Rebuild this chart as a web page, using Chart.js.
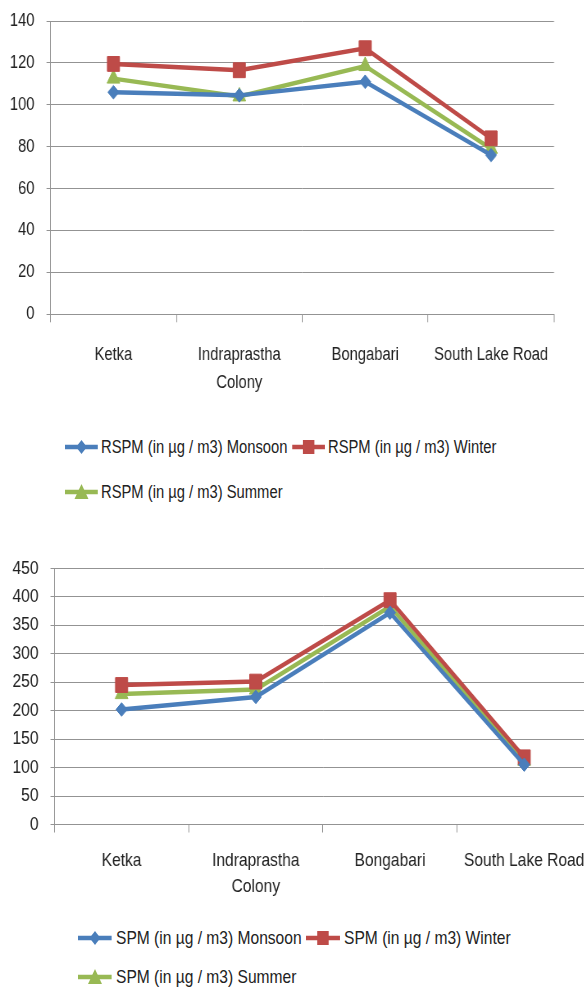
<!DOCTYPE html>
<html lang="en">
<head>
    <meta charset="UTF-8">
    <title>RSPM and SPM by location</title>
    <script src="https://cdn.jsdelivr.net/npm/chart.js@4.4.0/dist/chart.umd.min.js"></script>
    <style>
        body { margin: 0; width: 584px; height: 987px; overflow: hidden; background: #fff;
               font-family: 'Liberation Sans', Arial, sans-serif; color: #222; }
        /* the original uses a narrow face; Liberation Sans squeezed to 82% gives Arial Narrow widths */
        .box { position: absolute; left: 0; transform-origin: 0 0; }
        .legend-row { position: absolute; display: flex; align-items: center; white-space: nowrap; transform-origin: 0 50%; }
        .legend-row .item { display: flex; align-items: center; }
        .legend-row svg { display: block; }
    </style>
</head>
<body>
    <div class="box" id="rspm-box" style="top:0"><canvas id="rspm" height="400"></canvas></div>
    <div id="rspm-legend"></div>
    <div class="box" id="spm-box" style="top:540px"><canvas id="spm" height="370"></canvas></div>
    <div id="spm-legend"></div>

    <script>
        // locations (x axis)
        const locations = ['Ketka', ['Indraprastha', 'Colony'], 'Bongabari', 'South Lake Road'];

        // RSPM chart values (µg / m3)
        const rspmMonsoon = [106, 104.5, 111, 76];
        const rspmWinter = [119.5, 116.5, 127, 84];
        const rspmSummer = [112.5, 104, 118.5, 79];
        const rspmTicks = [0, 20, 40, 60, 80, 100, 120, 140];

        // SPM chart values (µg / m3)
        const spmMonsoon = [202, 224, 372, 105];
        const spmWinter = [245, 251, 394, 118];
        const spmSummer = [229, 237, 383, 112];
        const spmTicks = [0, 50, 100, 150, 200, 250, 300, 350, 400, 450];

        const seasons = ['Monsoon', 'Winter', 'Summer'];
        const colors = ['#4a7ebb', '#be4b48', '#98b954'];
        const markers = ['rectRot', 'rect', 'triangle'];
        const markerSize = [6.8, 10.5, 9];

        const SX = 0.82;              // horizontal squeeze
        const gridColor = '#939393';
        Chart.defaults.font.family = "'Liberation Sans', Arial, sans-serif";
        Chart.defaults.color = '#222';

        function makeDatasets(prefix, series) {
            return series.map((values, i) => ({
                label: prefix + ' (in µg / m3) ' + seasons[i],
                data: values,
                borderColor: colors[i],
                backgroundColor: colors[i],
                borderWidth: 4.5,
                pointStyle: markers[i],
                pointRadius: markerSize[i],
                pointBorderWidth: 1,
                tension: 0
            }));
        }

        // cfg sizes are given in screen px, converted to canvas px here
        function makeChart(id, prefix, series, ticks, cfg) {
            const canvas = document.getElementById(id);
            canvas.width = Math.round(cfg.width / SX);
            document.getElementById(id + '-box').style.transform = 'scaleX(' + (cfg.width / canvas.width) + ')';
            return new Chart(canvas, {
                type: 'line',
                data: { labels: locations, datasets: makeDatasets(prefix, series) },
                options: {
                    responsive: false,
                    animation: false,
                    layout: { autoPadding: false, padding: { top: cfg.top, right: (cfg.width - cfg.right) / SX, left: 0, bottom: 0 } },
                    plugins: { legend: { display: false }, tooltip: { enabled: false } },
                    scales: {
                        x: {
                            offset: true,
                            grid: { offset: true, drawOnChartArea: false, drawTicks: true, tickLength: 8, color: gridColor },
                            border: { color: gridColor },
                            ticks: { autoSkip: false, maxRotation: 0, padding: cfg.labelPad,
                                     font: { size: cfg.font, lineHeight: cfg.lineHeight } },
                            afterFit: s => { s.height = cfg.xHeight; }
                        },
                        y: {
                            min: ticks[0],
                            max: ticks[ticks.length - 1],
                            ticks: { stepSize: ticks[1] - ticks[0], padding: 12 / SX, font: { size: cfg.font } },
                            grid: { color: gridColor, tickLength: 4 / SX },
                            border: { color: gridColor },
                            // fixed width, and no extra room above/below for the tick labels
                            afterFit: s => { s.width = cfg.left / SX; s.paddingTop = 0; s.paddingBottom = 0; }
                        }
                    }
                }
            });
        }

        makeChart('rspm', 'RSPM', [rspmMonsoon, rspmWinter, rspmSummer], rspmTicks,
            { width: 584, top: 21, left: 50.5, right: 554, xHeight: 85.7, font: 18, lineHeight: 1.55, labelPad: 19 });
        makeChart('spm', 'SPM', [spmMonsoon, spmWinter, spmSummer], spmTicks,
            { width: 600, top: 28.3, left: 54.5, right: 591.3, xHeight: 85.5, font: 19, lineHeight: 1.39, labelPad: 15 });

        // html legend, Excel style: line with the marker on it (drawn unsqueezed, row squeezed by SX)
        function swatch(i, w) {
            const c = colors[i];
            const m = w / 2;
            let mark;
            if (i === 0) mark = `<polygon points="${m},4 ${m + 6.5},11 ${m},18 ${m - 6.5},11" fill="${c}"/>`;
            else if (i === 1) mark = `<rect x="${m - 7}" y="4" width="14" height="14" fill="${c}"/>`;
            else mark = `<polygon points="${m},3 ${m + 8.5},18 ${m - 8.5},18" fill="${c}"/>`;
            return `<svg width="${w}" height="22"><line x1="0" y1="11" x2="${w}" y2="11" stroke="${c}" stroke-width="4.5"/>${mark}</svg>`;
        }

        function buildLegend(id, prefix, rows, opts) {
            const holder = document.getElementById(id);
            rows.forEach((row, r) => {
                const div = document.createElement('div');
                div.className = 'legend-row';
                div.style.left = opts.left + 'px';
                div.style.top = (opts.centers[r] - 11) + 'px';
                div.style.fontSize = opts.font + 'px';
                div.style.gap = (opts.gap / SX) + 'px';
                div.style.transform = 'scaleX(' + SX + ')';
                div.innerHTML = row.map(i =>
                    `<span class="item">${swatch(i, opts.sw / SX)}<span style="margin-left:${opts.textGap / SX}px;line-height:22px">${prefix} (in µg / m3) ${seasons[i]}</span></span>`
                ).join('');
                holder.appendChild(div);
            });
        }

        buildLegend('rspm-legend', 'RSPM', [[0, 1], [2]], { left: 65, centers: [446.7, 491.7], font: 18, gap: 4.5, sw: 33, textGap: 3 });
        buildLegend('spm-legend', 'SPM', [[0, 1], [2]], { left: 78, centers: [938.3, 976.7], font: 19, gap: 4.5, sw: 34, textGap: 4 });
    </script>
</body>
</html>
